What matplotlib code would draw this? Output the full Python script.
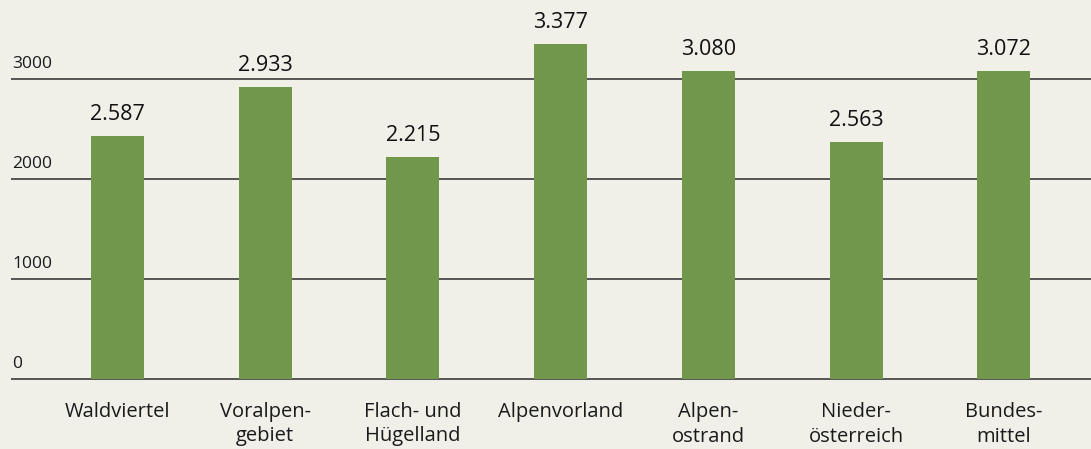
import matplotlib

matplotlib.use('Agg')
import matplotlib.pyplot as plt
import numpy as np

regions = ['Waldviertel', 'Voralpen-\ngebiet', 'Flach- und\nHügelland', 'Alpenvorland',
           'Alpen-\nostrand', 'Nieder-\nösterreich', 'Bundes-\nmittel']
values = [2430, 2920, 2220, 3350, 3080, 2370, 3080]
value_labels = ['2.587', '2.933', '2.215', '3.377', '3.080', '2.563', '3.072']
yticks = [0, 1000, 2000, 3000]

BG = '#f0f0e9'
GREEN = '#71984a'

plt.rcParams['font.family'] = ['Open Sans', 'DejaVu Sans']

fig = plt.figure(figsize=(10.91, 4.49), dpi=100, facecolor=BG)
ax = fig.add_axes([0, 0, 1, 1])
ax.set_facecolor(BG)

x = np.arange(len(regions))
spacing = 147.7  # px between bar centres
x_left = -117.5 / spacing
x_right = x_left + 1091 / spacing
ax.set_xlim(x_left, x_right)
ax.set_ylim(-700, 3790)

line_start = x_left + 11 / spacing
for t in yticks:
    ax.hlines(t, line_start, x_right, color='#555555', linewidth=1.4, zorder=1)
    ax.annotate(str(t), xy=(line_start, t), xytext=(1, 5), textcoords='offset points',
                fontsize=12.5, ha='left', va='bottom', color='#1a1a1a')

ax.bar(x, values, width=53 / spacing, color=GREEN, zorder=2)

for xi, v, lab in zip(x, values, value_labels):
    ax.annotate(lab, xy=(xi, v), xytext=(0, 8), textcoords='offset points',
                ha='center', va='bottom', fontsize=15.5, color='#111111')

for xi, name in zip(x, regions):
    ax.text(xi, -230, name, ha='center', va='top', fontsize=14.5,
            color='#1a1a1a', linespacing=1.3)

ax.axis('off')
fig.savefig('out.png', dpi=100, facecolor=BG)
